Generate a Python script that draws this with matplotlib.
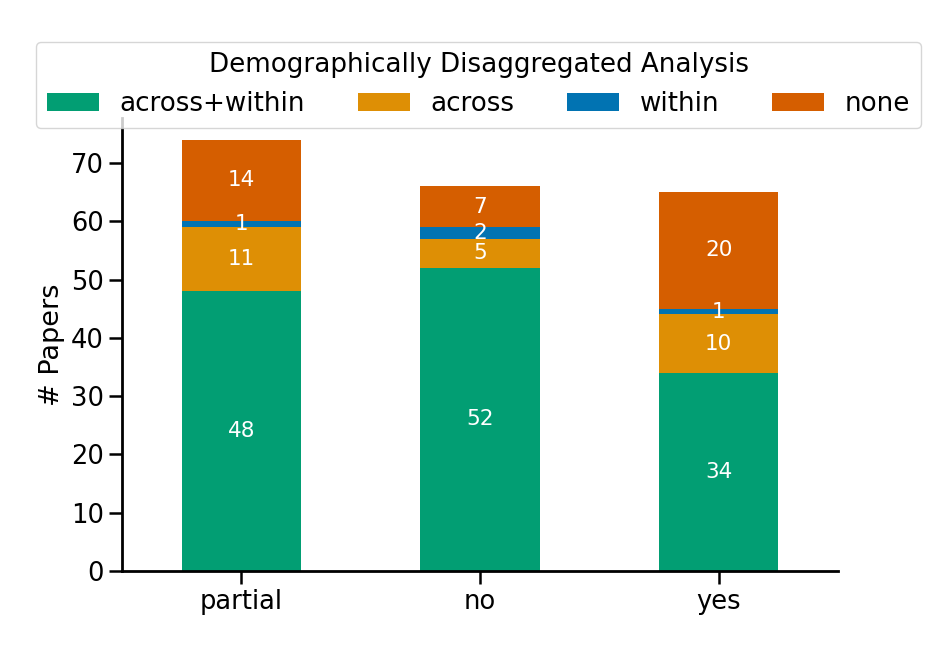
import matplotlib.pyplot as plt
import numpy as np

# ── Data ───────────────────────────────────────────────────────────────
categories = ["partial", "no", "yes"]
series_names = ["across+within", "across", "within", "none"]
across_within = [48, 52, 34]
across = [11, 5, 10]
within = [1, 2, 1]
none = [14, 7, 20]
series_values = [across_within, across, within, none]
colors = ["#029e73", "#de8f05", "#0173b2", "#d55e00"]

fig = plt.figure(figsize=(9.47, 6.51), dpi=100)
ax = fig.add_axes([0.1288, 0.1229, 0.7562, 0.6958])

x = np.arange(len(categories))
bottom = np.zeros(len(categories))
for name, vals, col in zip(series_names, series_values, colors):
    bars = ax.bar(x, vals, width=0.5, bottom=bottom, color=col, label=name)
    ax.bar_label(bars, labels=[str(v) for v in vals], label_type="center",
                 color="white", fontsize=15.5)
    bottom += np.array(vals)

ax.set_xlim(-0.5, 2.5)
ax.set_ylim(0, bottom.max() * 1.05)
ax.set_xticks(x)
ax.set_xticklabels(categories)
ax.set_yticks(np.arange(0, 80, 10))
ax.set_ylabel("# Papers", fontsize=19.5)
ax.tick_params(labelsize=18.5, length=9.5, width=1.8)
for s in ["top", "right"]:
    ax.spines[s].set_visible(False)
for s in ["left", "bottom"]:
    ax.spines[s].set_linewidth(2.0)

leg = ax.legend(title="Demographically Disaggregated Analysis", ncol=4,
                loc="upper center", bbox_to_anchor=(0.5053, 0.9355),
                bbox_transform=fig.transFigure, borderaxespad=0,
                fontsize=18.8, title_fontsize=18.8,
                columnspacing=2.0, framealpha=0.8)

fig.savefig("out.png", dpi=100)
